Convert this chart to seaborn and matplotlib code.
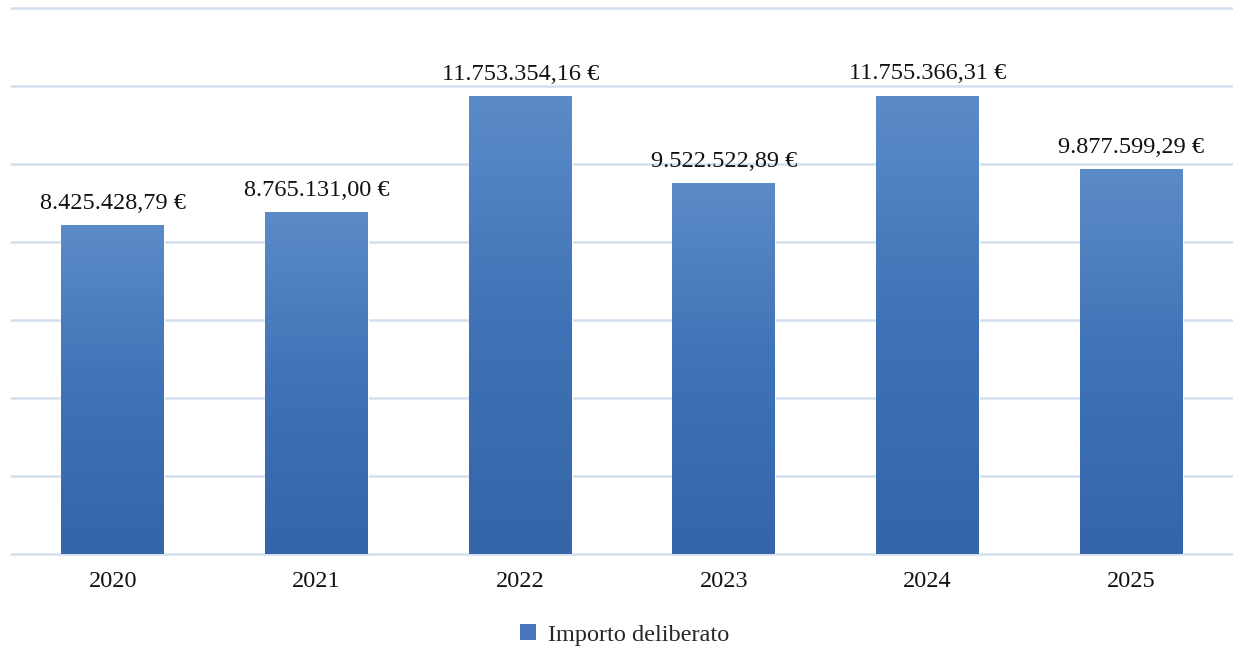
import numpy as np
import pandas as pd
import matplotlib
matplotlib.use("Agg")
import matplotlib.pyplot as plt
from matplotlib.colors import LinearSegmentedColormap
from matplotlib.patches import Patch
import seaborn as sns

# data
anni = ["2020", "2021", "2022", "2023", "2024", "2025"]
importi = [8425428.79, 8765131.00, 11753354.16, 9522522.89, 11755366.31, 9877599.29]
etichette = ["8.425.428,79 €", "8.765.131,00 €", "11.753.354,16 €",
             "9.522.522,89 €", "11.755.366,31 €", "9.877.599,29 €"]

df = pd.DataFrame({"anno": anni, "importo": importi})

sns.set_style("white")
plt.rcParams["font.family"] = ["Liberation Serif", "DejaVu Serif"]

fig = plt.figure(figsize=(12.33, 6.47), dpi=100)
ax = fig.add_axes([11 / 1233, 93 / 647, 1 - 11 / 1233, 546 / 647])

sns.barplot(data=df, x="anno", y="importo", color="#4a7bbd", width=0.505,
            saturation=1, ax=ax, zorder=2)

# vertical gradient on each bar (lighter on top, darker at bottom)
cmap = LinearSegmentedColormap.from_list("grad", ["#3465a8", "#3f72b6", "#5b8bc8"])
grad = np.linspace(0, 1, 256).reshape(-1, 1)
for bar in ax.patches:
    x0, y0 = bar.get_x(), bar.get_y()
    w, h = bar.get_width(), bar.get_height()
    im = ax.imshow(grad, cmap=cmap, origin="lower", aspect="auto",
                   extent=[x0, x0 + w, y0, y0 + h], zorder=3)
    im.set_clip_path(bar)

for i, (v, t) in enumerate(zip(importi, etichette)):
    ax.annotate(t, (i, v), xytext=(0, 8), textcoords="offset points",
                ha="center", va="bottom", fontsize=17.5, color="#111111")

ax.set_xlim(-0.5, 5.5)
ax.set_ylim(0, 14000000)
ax.set_yticks(np.arange(0, 14000001, 2000000))
ax.yaxis.grid(True, color="#d3def0", linewidth=1.8, zorder=0)
ax.set_axisbelow(True)
for gl in ax.get_ygridlines():
    gl.set_clip_on(False)
ax.set_yticklabels([])
ax.tick_params(axis="y", length=0)
ax.tick_params(axis="x", length=0, labelsize=17.5, pad=12, labelcolor="#111111")
ax.set_xlabel("")
ax.set_ylabel("")
for s in ax.spines.values():
    s.set_visible(False)

handle = Patch(facecolor="#4677ba", edgecolor="none")
fig.legend([handle], ["Importo deliberato"], loc="center", bbox_to_anchor=(625 / 1233, 1 - 635 / 647),
           frameon=False, fontsize=17.5, handlelength=0.65, handleheight=0.65,
           handletextpad=0.5)

fig.savefig("out.png", dpi=100)
